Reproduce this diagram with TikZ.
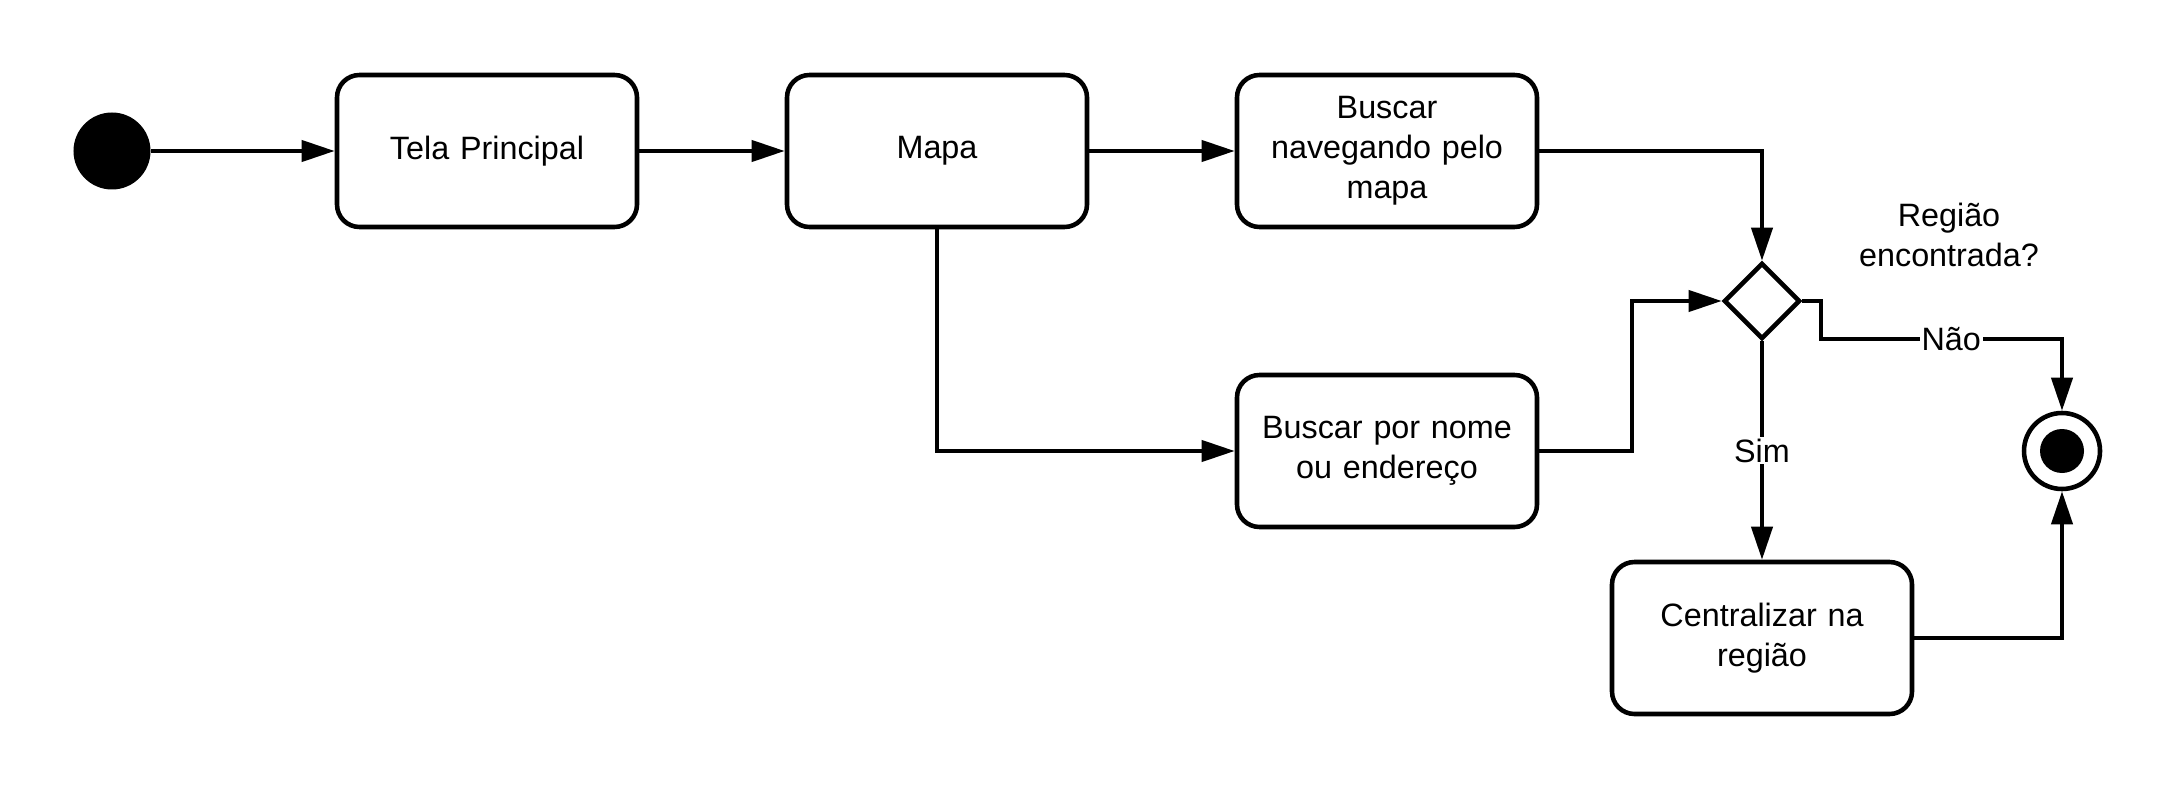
\documentclass[tikz,border=0pt]{standalone}
\usepackage{fontspec}
\setmainfont{Liberation Sans}
\usetikzlibrary{shapes.geometric,arrows.meta,positioning}

\tikzstyle{block} = [rectangle, draw, line width=2.6pt,
     text width=5.4cm, text centered, rounded corners=0.45cm, minimum width=6cm, minimum height=3.04cm]
\tikzstyle{start} = [circle, fill=black, minimum size=1.54cm, inner sep=0pt]
\tikzstyle{final} = [circle, draw, line width=2.6pt, minimum size=1.52cm, inner sep=0pt]
\tikzstyle{decision} = [diamond, draw, line width=2.6pt, minimum width=1.52cm, minimum height=1.52cm, inner sep=0pt]
\tikzstyle{line} = [draw, line width=2.3pt, -{Triangle[length=0.66cm, width=0.42cm]}]
\tikzstyle{rotulo} = [fill=white, inner sep=1pt]

\begin{document}
\begin{tikzpicture}[node distance = 9cm, font=\fontsize{18.4}{22.7}\selectfont]
    \useasboundingbox (-2.24,3.02) rectangle (41.26,-12.74);
    % Place nodes
    \node [start] (inicio) {};
    \node [block, right of=inicio, node distance=7.5cm] (tela_principal) {Tela Principal};
    \node [block, right of=tela_principal] (mapa) {Mapa};
    \node [block, right of=mapa] (buscar_navegando) {Buscar\\ navegando pelo\\ mapa};
    \node [block, below of=buscar_navegando, node distance=6cm] (buscar_nome) {Buscar por nome\\ ou endereço};
    \node [decision, right of=buscar_nome, node distance=7.5cm, yshift=3cm] (regiao) {};
    \node [right of=regiao, node distance=3.74cm, yshift=1.32cm, align=center] (pergunta) {Região\\ encontrada?};
    \node [block, below of=regiao, node distance=6.74cm] (centralizar) {Centralizar na\\ região};
    \node [final, right of=regiao, node distance=6cm, yshift=-3cm] (fim) {};
    \fill (fim) circle (0.44cm);

    % Draw edges
    \path [line] (inicio) -- (tela_principal);
    \path [line] (tela_principal) -- (mapa);
    \path [line] (mapa) -- (buscar_navegando);
    \path [line] (mapa) |- (buscar_nome);
    \path [line] (buscar_navegando) -| (regiao);
    \path [line] (buscar_nome.east) -- ++(1.86,0) |- (regiao);
    \path [line] (regiao.east) -- ++(0.38,0) -- ++(0,-0.76) -| node [rotulo, pos=0.27] {Não} (fim);
    \path [line] (regiao) -- node [rotulo] {Sim} (centralizar);
    \path [line] (centralizar) -| (fim);

\end{tikzpicture}
\end{document}
